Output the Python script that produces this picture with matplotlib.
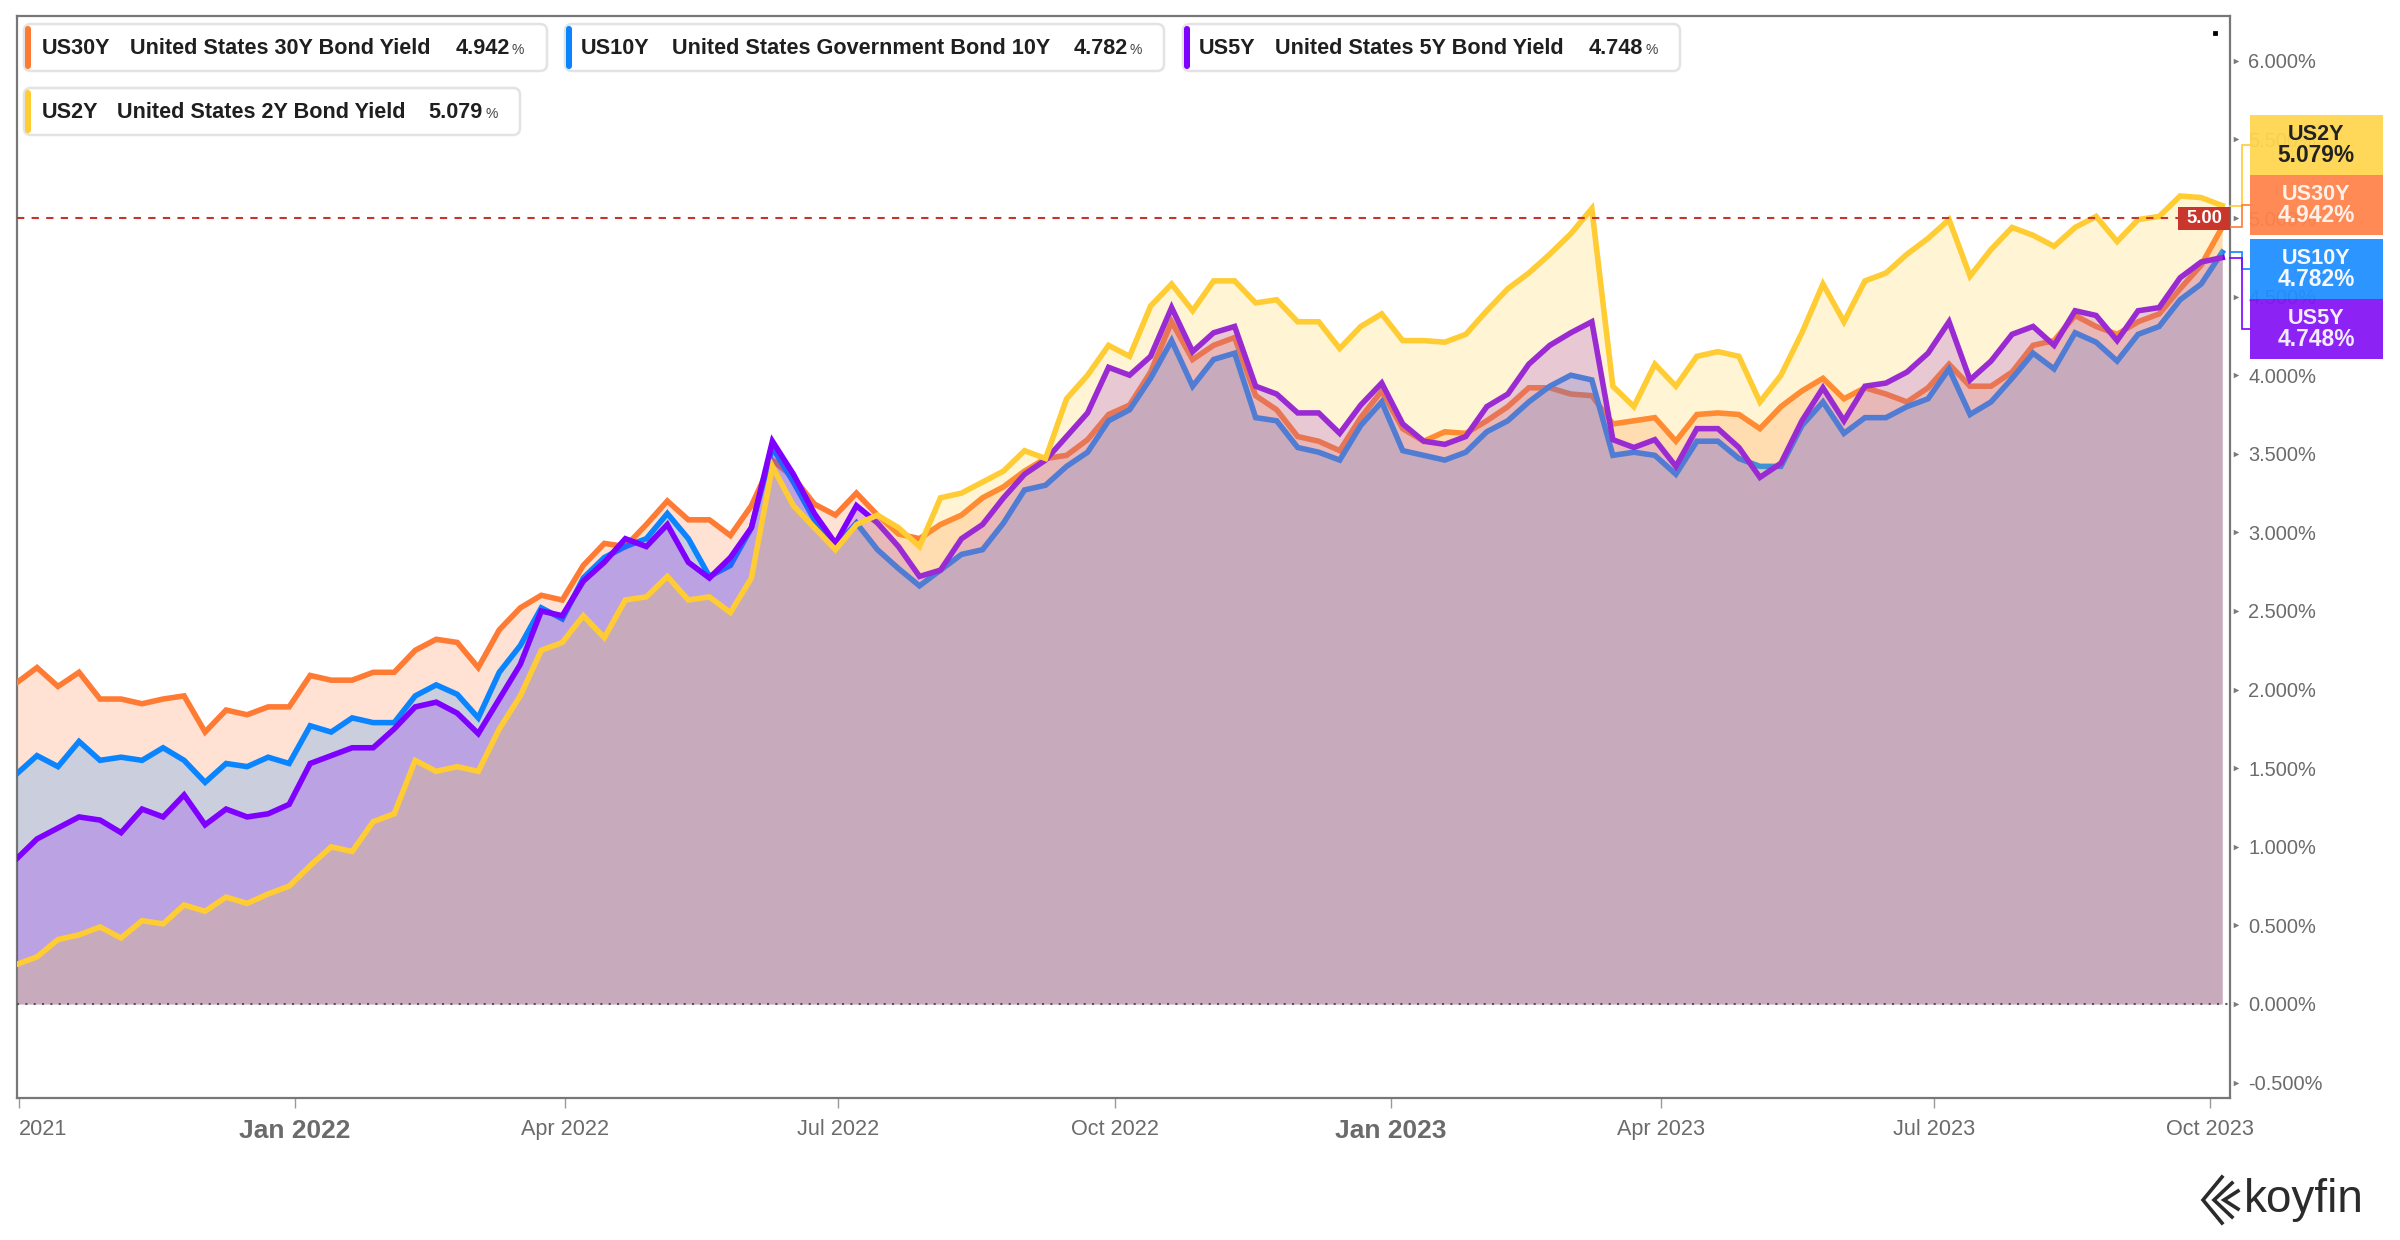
import matplotlib
matplotlib.use('Agg')
import matplotlib.pyplot as plt
import matplotlib.dates as mdates
from matplotlib.patches import FancyBboxPatch, Rectangle
from matplotlib.transforms import blended_transform_factory
import numpy as np
import pandas as pd

plt.rcParams['font.family'] = ['Liberation Sans', 'DejaVu Sans']

# ---------------- data (weekly samples) ----------------
start_date = '2021-09-30'
n_points = 106
dates = pd.date_range(start_date, periods=n_points, freq='7D')

us30y = [2.04, 2.14, 2.02, 2.11, 1.94, 1.94, 1.91, 1.94, 1.96, 1.73, 1.87, 1.84, 1.89, 1.89, 2.09, 2.06, 2.06, 2.11,
         2.11, 2.25, 2.32, 2.30, 2.14, 2.38, 2.52, 2.60, 2.57, 2.79, 2.93, 2.91, 3.05, 3.20, 3.08, 3.08, 2.98, 3.17,
         3.46, 3.35, 3.18, 3.11, 3.25, 3.11, 2.99, 2.96, 3.05, 3.11, 3.22, 3.29, 3.39, 3.47, 3.49, 3.59, 3.75,
         3.81, 4.02, 4.34, 4.10, 4.19, 4.24, 3.87, 3.78, 3.61, 3.58, 3.52, 3.73, 3.90, 3.66, 3.58, 3.64, 3.63, 3.71,
         3.80, 3.92, 3.92, 3.88, 3.87, 3.69, 3.71, 3.73, 3.58, 3.75, 3.76, 3.75, 3.66, 3.80, 3.90, 3.98, 3.85, 3.92,
         3.88, 3.83, 3.92, 4.07, 3.93, 3.93, 4.02, 4.19, 4.22, 4.38, 4.31, 4.26, 4.34, 4.39, 4.55, 4.70, 4.942]

us10y = [1.46, 1.58, 1.51, 1.67, 1.55, 1.57, 1.55, 1.63, 1.55, 1.41, 1.53, 1.51, 1.57, 1.53, 1.77, 1.73, 1.82, 1.79,
         1.79, 1.96, 2.03, 1.97, 1.82, 2.11, 2.28, 2.52, 2.45, 2.71, 2.84, 2.91, 2.96, 3.12, 2.96, 2.72, 2.79, 3.03,
         3.54, 3.32, 3.08, 2.91, 3.06, 2.89, 2.77, 2.66, 2.76, 2.86, 2.89, 3.06, 3.27, 3.30, 3.42, 3.51, 3.71,
         3.78, 3.98, 4.22, 3.93, 4.10, 4.14, 3.73, 3.71, 3.54, 3.51, 3.46, 3.68, 3.83, 3.52, 3.49, 3.46, 3.51, 3.64,
         3.71, 3.83, 3.93, 4.00, 3.97, 3.49, 3.51, 3.49, 3.37, 3.58, 3.58, 3.47, 3.42, 3.42, 3.68, 3.83, 3.63, 3.73,
         3.73, 3.80, 3.85, 4.04, 3.75, 3.83, 3.98, 4.14, 4.04, 4.27, 4.21, 4.09, 4.26, 4.31, 4.48, 4.58, 4.782]

us5y = [0.92, 1.05, 1.12, 1.19, 1.17, 1.09, 1.24, 1.19, 1.33, 1.14, 1.24, 1.19, 1.21, 1.27, 1.53, 1.58, 1.63, 1.63,
        1.75, 1.89, 1.92, 1.85, 1.72, 1.94, 2.16, 2.50, 2.47, 2.69, 2.81, 2.96, 2.91, 3.05, 2.81, 2.71, 2.84, 3.03,
        3.58, 3.37, 3.12, 2.93, 3.17, 3.06, 2.91, 2.72, 2.76, 2.96, 3.05, 3.22, 3.37, 3.46, 3.61, 3.76, 4.05,
        4.00, 4.12, 4.43, 4.15, 4.27, 4.31, 3.93, 3.88, 3.76, 3.76, 3.63, 3.81, 3.95, 3.69, 3.58, 3.56, 3.61, 3.80,
        3.88, 4.07, 4.19, 4.27, 4.34, 3.59, 3.54, 3.59, 3.42, 3.66, 3.66, 3.54, 3.35, 3.44, 3.71, 3.92, 3.71, 3.93,
        3.95, 4.02, 4.14, 4.34, 3.97, 4.09, 4.26, 4.31, 4.19, 4.41, 4.38, 4.22, 4.41, 4.43, 4.62, 4.72, 4.748]

us2y = [0.25, 0.30, 0.41, 0.44, 0.49, 0.42, 0.53, 0.51, 0.63, 0.59, 0.68, 0.64, 0.70, 0.75, 0.88, 1.00, 0.97, 1.16,
        1.21, 1.55, 1.48, 1.51, 1.48, 1.75, 1.96, 2.25, 2.30, 2.47, 2.33, 2.57, 2.59, 2.72, 2.57, 2.59, 2.49, 2.71,
        3.42, 3.17, 3.03, 2.89, 3.05, 3.11, 3.03, 2.91, 3.22, 3.25, 3.32, 3.39, 3.52, 3.47, 3.85, 4.00, 4.19,
        4.12, 4.44, 4.58, 4.41, 4.60, 4.60, 4.46, 4.48, 4.34, 4.34, 4.17, 4.31, 4.39, 4.22, 4.22, 4.21, 4.26, 4.41,
        4.55, 4.65, 4.77, 4.90, 5.06, 3.93, 3.80, 4.07, 3.93, 4.12, 4.15, 4.12, 3.83, 4.00, 4.27, 4.58, 4.34, 4.60,
        4.65, 4.77, 4.87, 4.99, 4.63, 4.80, 4.94, 4.89, 4.82, 4.94, 5.01, 4.85, 4.99, 5.01, 5.14, 5.13, 5.079]

codes = ['US30Y', 'US10Y', 'US5Y', 'US2Y']
names = ['United States 30Y Bond Yield', 'United States Government Bond 10Y',
         'United States 5Y Bond Yield', 'United States 2Y Bond Yield']
values = [us30y, us10y, us5y, us2y]
line_colors = ['#ff7a33', '#0a84ff', '#7f00ff', '#ffcc33']

reference_level = 5.00
y_ticks = np.arange(-0.5, 6.01, 0.5)
x_tick_dates = ['2021-10-01', '2022-01-01', '2022-04-01', '2022-07-01', '2022-10-01',
                '2023-01-01', '2023-04-01', '2023-07-01', '2023-10-01']
x_tick_labels = ['2021', 'Jan 2022', 'Apr 2022', 'Jul 2022', 'Oct 2022',
                 'Jan 2023', 'Apr 2023', 'Jul 2023', 'Oct 2023']

# ---------------- figure ----------------
W, H = 2400, 1240
fig = plt.figure(figsize=(12, 6.2), dpi=200)
L, R, T, B = 17, 2230, 16, 1098
ax = fig.add_axes([L / W, 1 - B / H, (R - L) / W, (B - T) / H])

d0 = mdates.date2num(pd.Timestamp('2021-10-01'))
ppd = 3.0016
ax.set_xlim(d0 - (19 - L) / ppd, d0 + (R - 19) / ppd)
ax.set_ylim(-0.598, 6.285)

for i, (vals, col) in enumerate(zip(values, line_colors)):
    ax.fill_between(dates, 0, vals, color=col, alpha=0.21, lw=0, zorder=2 + 2 * i)
    ax.plot(dates, vals, color=col, lw=2.0, zorder=3 + 2 * i, solid_joinstyle='miter')

ax.axhline(0, color='#555555', lw=0.75, ls=(0, (1, 3)), zorder=20)
ax.axhline(reference_level, color='#c9342a', lw=0.75, ls=(0, (3.5, 3.5)), zorder=21)

for sp in ax.spines.values():
    sp.set_color('#777777')
    sp.set_linewidth(0.8)

ax.yaxis.tick_right()
ax.set_yticks(y_ticks)
ax.set_yticklabels([f'{v:.3f}%' for v in y_ticks])
ax.tick_params(axis='y', length=0, pad=6.5, labelsize=7.2, labelcolor='#6b6b6b')
trans = blended_transform_factory(ax.transAxes, ax.transData)
ax.scatter([1.0025] * len(y_ticks), y_ticks, marker='>', s=4, color='#7a7a7a',
           transform=trans, clip_on=False, zorder=30, lw=0)

ax.set_xticks([mdates.date2num(pd.Timestamp(d)) for d in x_tick_dates])
ax.set_xticklabels(x_tick_labels)
ax.tick_params(axis='x', length=3.6, width=0.5, color='#999999', pad=4,
               labelsize=7.8, labelcolor='#6b6b6b')
for lab in ax.get_xticklabels():
    if lab.get_text().startswith('Jan'):
        lab.set_fontsize(9.5)
        lab.set_fontweight('bold')
ax.get_xticklabels()[0].set_horizontalalignment('left')

# ---------------- overlay in pixel coordinates ----------------
ov = fig.add_axes([0, 0, 1, 1], zorder=5)
ov.set_xlim(0, W)
ov.set_ylim(H, 0)
ov.axis('off')
ov.patch.set_alpha(0)

# legend chips
chip_layout = {
    'US30Y': dict(box=(24, 24, 547, 71), xs=(42, 130, 510, 512)),
    'US10Y': dict(box=(565, 24, 1164, 71), xs=(581, 672, 1128, 1130)),
    'US5Y': dict(box=(1183, 24, 1680, 71), xs=(1199, 1275, 1643, 1645)),
    'US2Y': dict(box=(24, 88, 520, 135), xs=(42, 117, 483, 485)),
}
for code, name, vals, col in zip(codes, names, values, line_colors):
    lay = chip_layout[code]
    x0, y0, x1, y1 = lay['box']
    ov.add_patch(FancyBboxPatch((x0, y0), x1 - x0, y1 - y0,
                                boxstyle='round,pad=0,rounding_size=7',
                                fc='white', ec='#e3e3e3', lw=0.9, zorder=1))
    ov.add_patch(FancyBboxPatch((x0 + 1, y0 + 2), 6, y1 - y0 - 4,
                                boxstyle='round,pad=0,rounding_size=3',
                                fc=col, ec='none', zorder=2))
    yc = (y0 + y1) / 2 + 1
    xa, xb, xc, xd = lay['xs']
    ov.text(xa, yc, code, fontsize=7.8, fontweight='bold', color='#1f1f1f', va='center', ha='left')
    ov.text(xb, yc, name, fontsize=7.8, fontweight='bold', color='#1f1f1f', va='center', ha='left')
    ov.text(xc, yc, f'{vals[-1]:.3f}', fontsize=7.8, fontweight='bold', color='#1f1f1f', va='center', ha='right')
    ov.text(xd, yc + 2, '%', fontsize=5, color='#444444', va='center', ha='left')

# right-hand value labels
label_order = ['US2Y', 'US30Y', 'US10Y', 'US5Y']
label_tops = [115, 175, 239, 299]
label_fc = {'US2Y': '#ffd64f', 'US30Y': '#ff834a', 'US10Y': '#1f8fff', 'US5Y': '#8614f5'}
label_tc = {'US2Y': '#222222', 'US30Y': '#fff1ea', 'US10Y': '#f4f8ff', 'US5Y': '#f3ebff'}
xend = mdates.date2num(dates[-1])
for code, top in zip(label_order, label_tops):
    i = codes.index(code)
    v = values[i][-1]
    col = line_colors[i]
    ov.add_patch(Rectangle((2250, top), 133, 60, fc=label_fc[code], ec='none', alpha=0.94, zorder=3))
    ov.text(2316, top + 19, code, fontsize=7.8, fontweight='bold', color=label_tc[code],
            ha='center', va='center', zorder=4)
    ov.text(2316, top + 41, f'{v:.3f}%', fontsize=8.2, fontweight='bold', color=label_tc[code],
            ha='center', va='center', zorder=4)
    yv = H - ax.transData.transform((xend, v))[1]
    ym = top + 30
    ov.plot([R, 2242, 2242, 2250], [yv, yv, ym, ym], color=col, lw=0.6, zorder=2,
            solid_joinstyle='miter')

# reference level tag
y5 = H - ax.transData.transform((xend, reference_level))[1]
ov.add_patch(Rectangle((2178, y5 - 11), 52, 23, fc='#c9372c', ec='none', zorder=6))
ov.text(2204, y5 + 0.5, f'{reference_level:.2f}', fontsize=6.6, fontweight='bold', color='white',
        ha='center', va='center', zorder=7)

# small marker dot near top right of the plot
ov.plot([2215], [33], marker='s', ms=0.8, color='black', lw=0)

# koyfin logo
ov.plot([2222, 2203, 2222], [1177, 1200, 1223], color='#2b2b2b', lw=1.3, solid_joinstyle='miter')
ov.plot([2232, 2214, 2232], [1183, 1200, 1217], color='#2b2b2b', lw=1.3, solid_joinstyle='miter')
ov.plot([2238, 2224, 2238], [1191, 1200, 1209], color='#2b2b2b', lw=1.3, solid_joinstyle='miter')
ov.text(2244, 1212, 'koyfin', fontsize=16.5, color='#2b2b2b', ha='left', va='baseline')

fig.savefig('out.png', dpi=200)
